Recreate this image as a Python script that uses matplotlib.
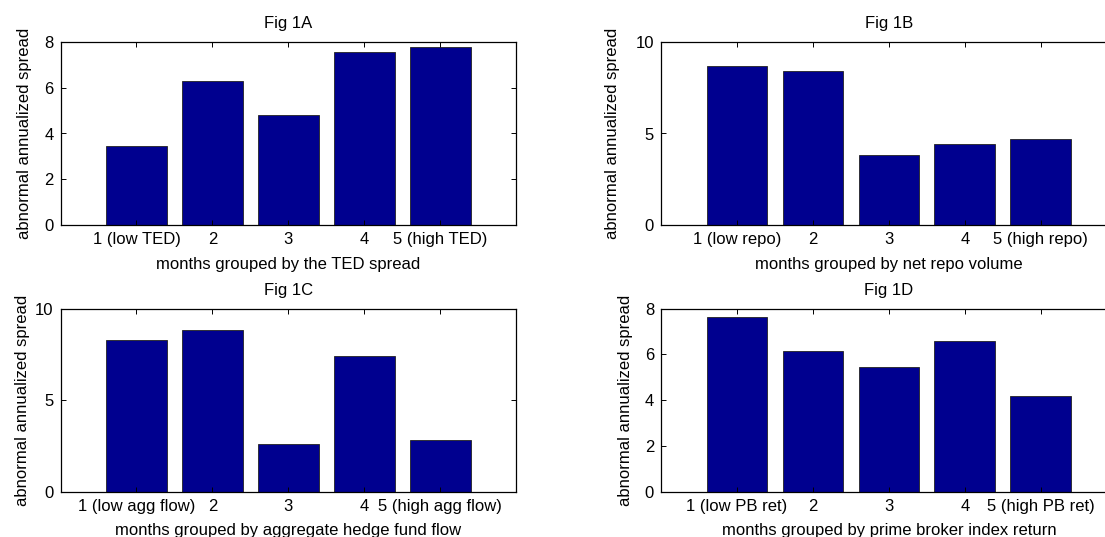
import numpy as np
import matplotlib
matplotlib.use('Agg')
import matplotlib.pyplot as plt

plt.rcParams['font.family'] = ['Liberation Sans', 'DejaVu Sans']
plt.rcParams['font.size'] = 12

# bar heights (abnormal annualized spread)
groups = [1, 2, 3, 4, 5]
spread_ted = [3.44, 6.30, 4.83, 7.56, 7.79]
spread_repo = [8.71, 8.42, 3.80, 4.44, 4.71]
spread_flow = [8.28, 8.84, 2.62, 7.40, 2.82]
spread_pb = [7.65, 6.16, 5.46, 6.57, 4.18]

labels_ted = ['1 (low TED)', '2', '3', '4', '5 (high TED)']
labels_repo = ['1 (low repo)', '2', '3', '4', '5 (high repo)']
labels_flow = ['1 (low agg flow)', '2', '3', '4', '5 (high agg flow)']
labels_pb = ['1 (low PB ret)', '2', '3', '4', '5 (high PB ret)']

barcolor = '#00008f'


def addPanel(fig, rect, values, ticklabels, title, xlabel, ymax, ystep, ylabelx):
	ax = fig.add_axes(rect)
	ax.bar(groups, values, width=0.8, color=barcolor, edgecolor='#222222', linewidth=0.6)
	ax.set_xlim(0, 6)
	ax.set_ylim(0, ymax)
	ax.set_xticks(groups)
	ax.set_xticklabels(ticklabels)
	ax.set_yticks(np.arange(0, ymax + 0.1, ystep))
	ax.tick_params(direction='in', length=3.3, width=0.7, top=True, right=True, pad=5)
	for s in ax.spines.values():
		s.set_linewidth(0.9)
	ax.set_title(title, fontsize=12, pad=10)
	ax.set_xlabel(xlabel, labelpad=7)
	ax.set_ylabel('abnormal annualized spread')
	# label anchored at its right (descender) edge
	ax.yaxis.set_label_coords(ylabelx, 0.5)
	return ax


fig = plt.figure(figsize=(11.05, 5.37), dpi=100)

w = 455.8 / 1105
h = 183.0 / 537
addPanel(fig, [60.5 / 1105, 1 - 225.0 / 537, w, h], spread_ted, labels_ted, 'Fig 1A',
	'months grouped by the TED spread', 8, 2, -0.0625)
addPanel(fig, [661.0 / 1105, 1 - 225.0 / 537, w, h], spread_repo, labels_repo, 'Fig 1B',
	'months grouped by net repo volume', 10, 5, -0.09)
addPanel(fig, [60.5 / 1105, 1 - 491.7 / 537, w, h], spread_flow, labels_flow, 'Fig 1C',
	'months grouped by aggregate hedge fund flow', 10, 5, -0.067)
addPanel(fig, [661.0 / 1105, 1 - 491.7 / 537, w, h], spread_pb, labels_pb, 'Fig 1D',
	'months grouped by prime broker index return', 8, 2, -0.061)

plt.savefig('out.png', dpi=100)
